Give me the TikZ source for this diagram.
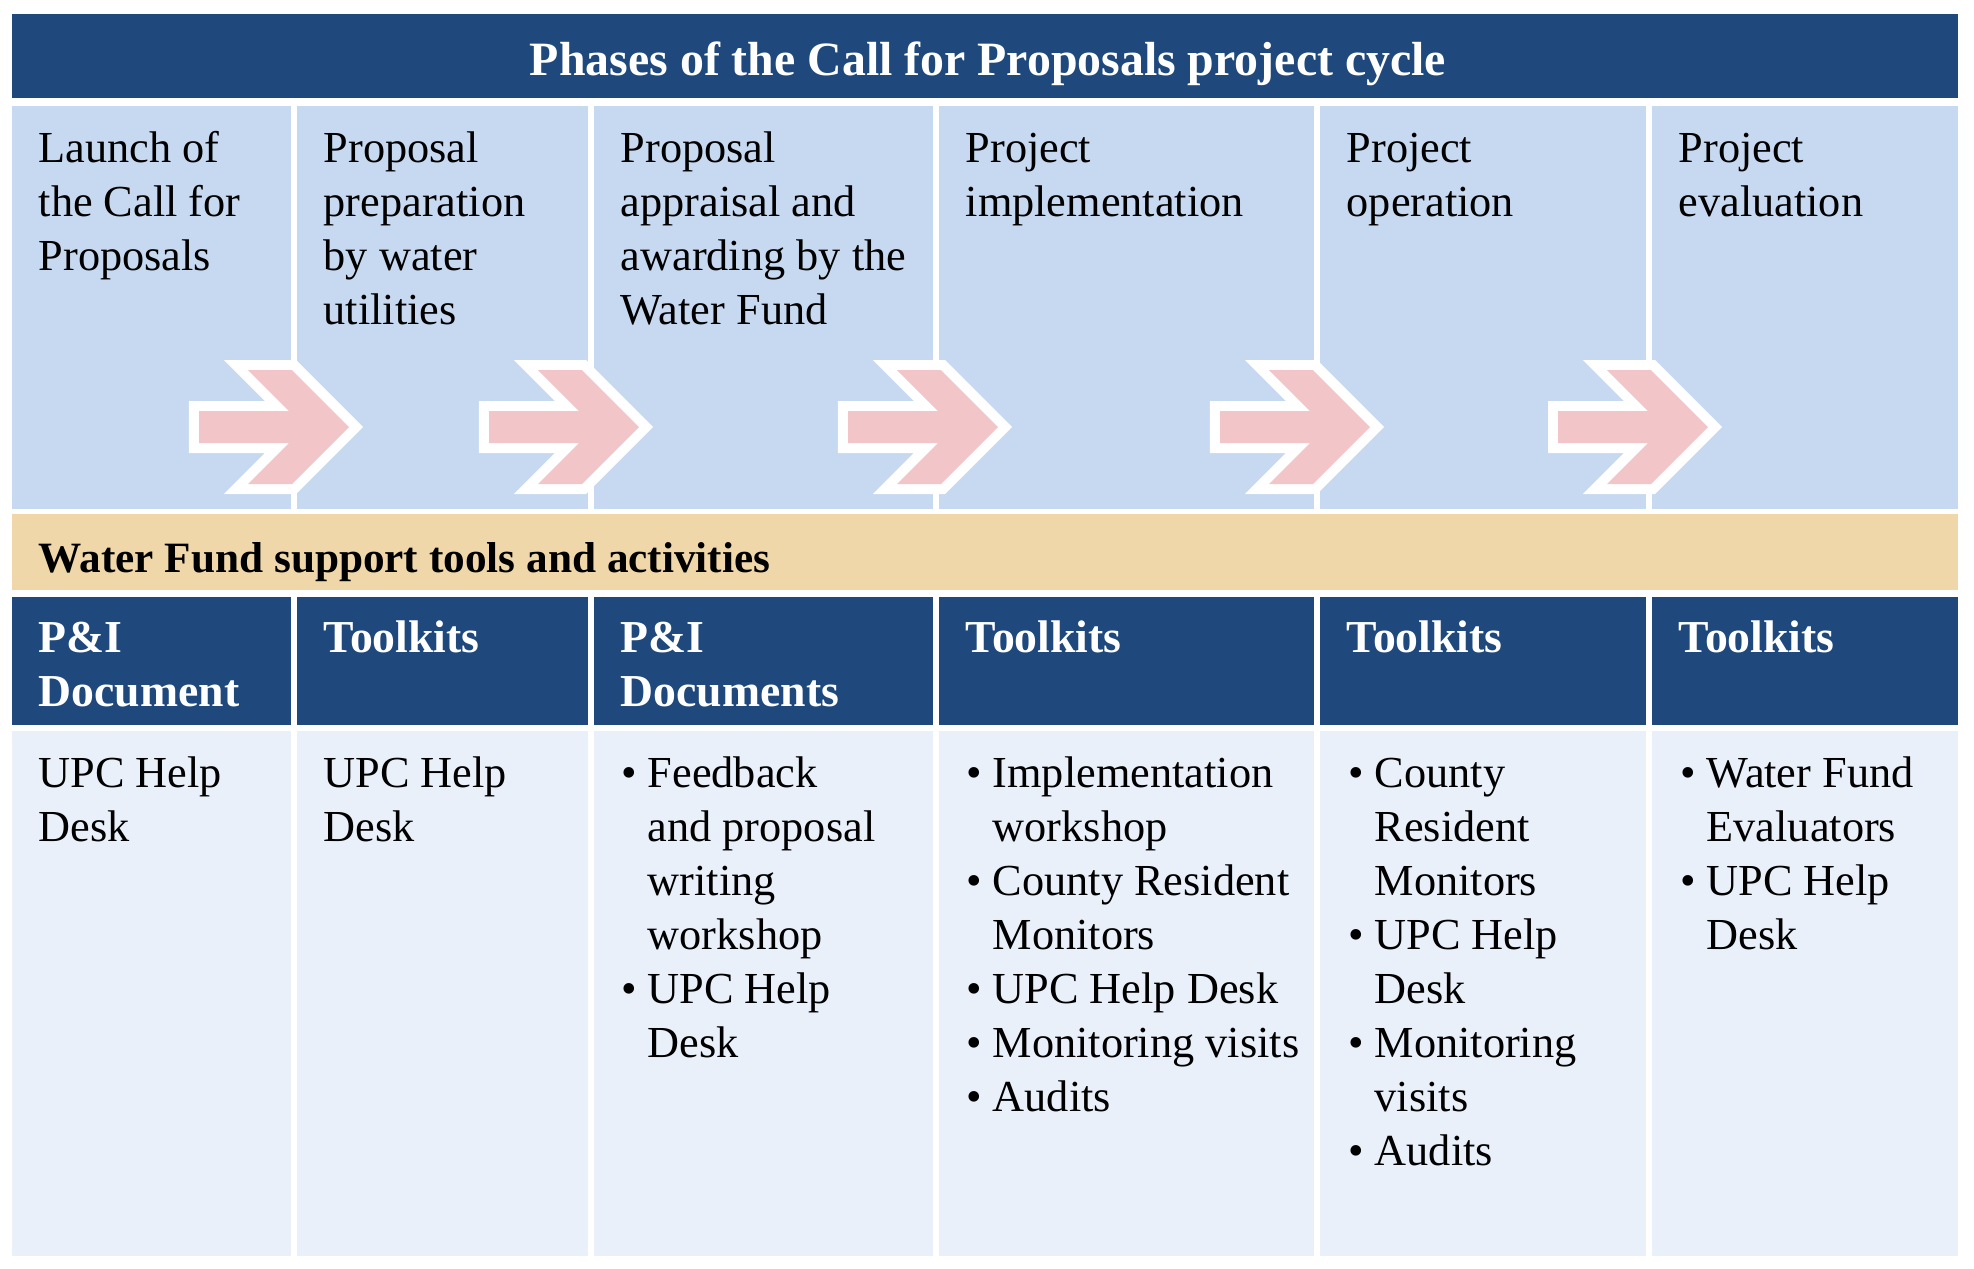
\documentclass[tikz,border=0pt]{standalone}
\usepackage{fontspec}
\setmainfont{Liberation Serif}
\usepackage{xcolor}

\definecolor{fundblue}{HTML}{1F497D}
\definecolor{phaseblue}{HTML}{C6D9F0}
\definecolor{bandtan}{HTML}{F0D7A9}
\definecolor{cellblue}{HTML}{E9F0FA}
\definecolor{arrowpink}{HTML}{F2C5C9}

\newcommand{\celllines}[1]{\begin{tabular}[t]{@{}l@{}}#1\end{tabular}}
\newcommand{\dotitem}{\makebox[0.26cm][l]{\textbullet}}
\newcommand{\dotgap}{\hspace*{0.26cm}}

\tikzset{
  celltext/.style={anchor=base west, inner sep=0pt,
    font=\fontsize{12.6}{15.37}\selectfont},
  headtext/.style={celltext, text=white,
    font=\fontsize{13}{15.6}\selectfont\bfseries},
  phasearrow/.style={fill=arrowpink,
    preaction={draw=white, line width=0.2cm}}
}

\begin{document}
\begin{tikzpicture}[x=0.01cm, y=-0.01cm]
  \useasboundingbox[fill=white] (0,0) rectangle (1974,1269);

  % title bar and band
  \fill[fundblue] (12,14) rectangle (1958,98);
  \node[anchor=base, inner sep=0pt, text=white,
    font=\fontsize{13.6}{16}\selectfont\bfseries] (title) at (988,75)
    {Phases of the Call for Proposals project cycle};
  \fill[bandtan] (12,514) rectangle (1958,590);
  \node[celltext, font=\fontsize{12.3}{15}\selectfont\bfseries] (band) at (38,572)
    {Water Fund support tools and activities};

  % columns
  \foreach \l/\r in {12/291, 297/588, 594/933, 939/1314, 1320/1646, 1652/1958} {
    \fill[phaseblue] (\l,106) rectangle (\r,509);
    \fill[fundblue] (\l,597) rectangle (\r,725);
    \fill[cellblue] (\l,731) rectangle (\r,1256);
  }

  % arrows between phases
  \foreach \t in {349, 639, 998, 1370, 1708}
    \path[phasearrow] (\t-150,411) -- (\t-60,411) -- (\t-101,370)
      -- (\t-57,370) -- (\t,427) -- (\t-57,484) -- (\t-101,484)
      -- (\t-60,443) -- (\t-150,443) -- cycle;

  % phases
  \node[celltext] (phase1) at (38,162) {\celllines{Launch of\\the Call for\\Proposals}};
  \node[celltext] (phase2) at (323,162) {\celllines{Proposal\\preparation\\by water\\utilities}};
  \node[celltext] (phase3) at (620,162) {\celllines{Proposal\\appraisal and\\awarding by the\\Water Fund}};
  \node[celltext] (phase4) at (965,162) {\celllines{Project\\implementation}};
  \node[celltext] (phase5) at (1346,162) {\celllines{Project\\operation}};
  \node[celltext] (phase6) at (1678,162) {\celllines{Project\\evaluation}};

  % tool headers
  \node[headtext] (tool1) at (38,652) {\celllines{P\&I\\Document}};
  \node[headtext] (tool2) at (323,652) {Toolkits};
  \node[headtext] (tool3) at (620,652) {\celllines{P\&I\\Documents}};
  \node[headtext] (tool4) at (965,652) {Toolkits};
  \node[headtext] (tool5) at (1346,652) {Toolkits};
  \node[headtext] (tool6) at (1678,652) {Toolkits};

  % activities
  \node[celltext] (help1) at (38,787) {\celllines{UPC Help\\Desk}};
  \node[celltext] (help2) at (323,787) {\celllines{UPC Help\\Desk}};
  \node[celltext] (help3) at (621,787)
    {\celllines{\dotitem Feedback\\\dotgap and proposal\\\dotgap writing\\
     \dotgap workshop\\\dotitem UPC Help\\\dotgap Desk}};
  \node[celltext] (help4) at (966,787)
    {\celllines{\dotitem Implementation\\\dotgap workshop\\\dotitem County Resident\\
     \dotgap Monitors\\\dotitem UPC Help Desk\\\dotitem Monitoring visits\\
     \dotitem Audits}};
  \node[celltext] (help5) at (1348,787)
    {\celllines{\dotitem County\\\dotgap Resident\\\dotgap Monitors\\\dotitem UPC Help\\
     \dotgap Desk\\\dotitem Monitoring\\\dotgap visits\\\dotitem Audits}};
  \node[celltext] (help6) at (1680,787)
    {\celllines{\dotitem Water Fund\\\dotgap Evaluators\\\dotitem UPC Help\\\dotgap Desk}};
\end{tikzpicture}
\end{document}
